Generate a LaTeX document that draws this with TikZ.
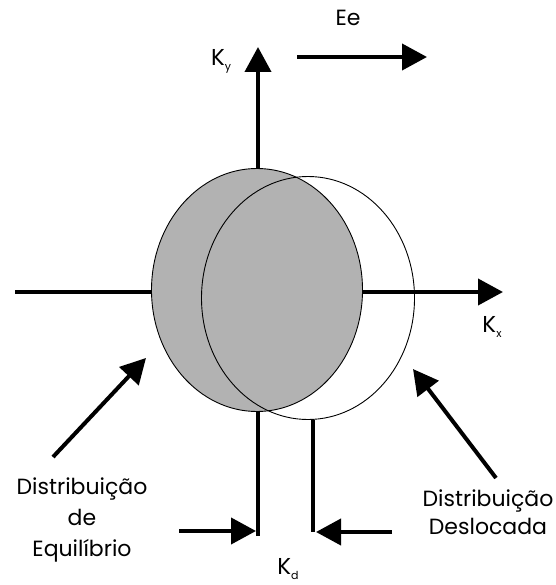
\documentclass[tikz,border=0pt]{standalone}
\usepackage{fontspec}
\setmainfont{Poppins}
\usetikzlibrary{arrows.meta,shapes.geometric}
\definecolor{distgray}{RGB}{178,178,178}
\newcommand{\ksub}[1]{{\fontsize{23}{23}\selectfont K}{\fontsize{11}{11}\selectfont\raisebox{-5pt}{#1}}}
\begin{document}
\begin{tikzpicture}[x=1pt,y=-1pt,
  thick line/.style={line width=4pt},
  bigtip/.style={-{Triangle[length=25pt,width=26pt]}},
  lbl/.style={inner sep=0pt,font=\fontsize{22}{31}\selectfont,align=center},
  distshape/.style={ellipse,draw,line width=0.9pt,inner sep=0pt,outer sep=0pt}]
\useasboundingbox (0,0) rectangle (555,585);
% coordinates
\coordinate (ytop) at (258,47);
\coordinate (ybot) at (258,536);
\coordinate (xleft) at (15,292);
\coordinate (xright) at (503,292);
\coordinate (eeA) at (297,57);
\coordinate (eeB) at (427,57);
\coordinate (kdTop) at (313,420);
\coordinate (kdBot) at (313,532);
\coordinate (laS) at (179,531);
\coordinate (laT) at (256,531);
\coordinate (raS) at (392,532);
\coordinate (raT) at (316,532);
\coordinate (dlS) at (53,457);
\coordinate (dlT) at (146,358);
\coordinate (drS) at (496,478);
\coordinate (drT) at (413,369);
% axes
\draw[thick line,bigtip] (ybot) -- (ytop);
\draw[thick line,bigtip] (xleft) -- (xright);
\draw[thick line,bigtip] (eeA) -- (eeB);
% distributions
\node[distshape,fill=distgray,minimum width=211pt,minimum height=243pt] (eq) at (257,290) {};
\node[distshape,minimum width=213pt,minimum height=243pt] (des) at (308,298) {};
% Kd marker
\draw[thick line] (kdTop) -- (kdBot);
\draw[thick line,bigtip] (laS) -- (laT);
\draw[thick line,bigtip] (raS) -- (raT);
% pointer arrows
\draw[thick line,bigtip] (dlS) -- (dlT);
\draw[thick line,bigtip] (drS) -- (drT);
% labels
\node[lbl] (ee) at (348,18) {Ee};
\node[lbl] (ky) at (221,61) {\ksub{y}};
\node[lbl] (kx) at (492,327) {\ksub{x}};
\node[lbl] (kd) at (288,569) {\ksub{d}};
\node[lbl] (leq) at (82,520) {Distribuição\\de\\Equilíbrio};
\node[lbl] (ldes) at (488,512) {Distribuição\\[-3pt]Deslocada};
\end{tikzpicture}
\end{document}
